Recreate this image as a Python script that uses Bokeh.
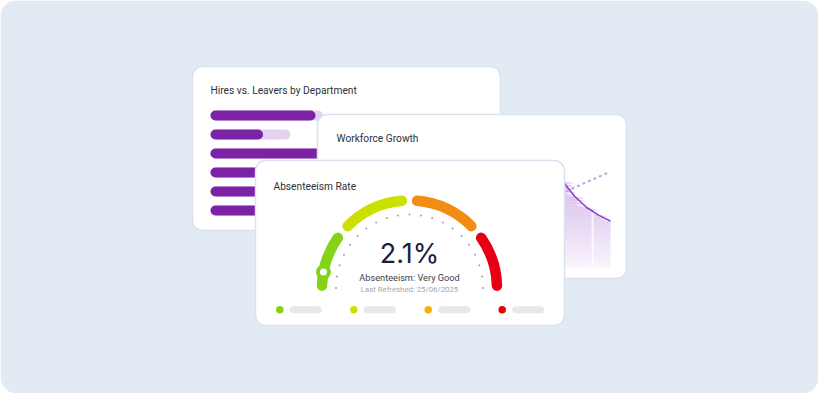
import numpy as np
from bokeh.plotting import figure
from bokeh.models import Range1d
from bokeh.embed import file_html
from bokeh.resources import INLINE
from bokeh.core.properties import value

# ---------------- data ----------------
# Card 1: Hires vs. Leavers by Department
departments = ["Sales", "Engineering", "Operations", "Marketing", "Finance", "HR"]
hires = [42, 21, 46, 38, 40, 36]
leavers = [3, 11, 6, 8, 5, 7]

# Card 2: Workforce Growth (headcount per period)
wf_period = list(range(24))
wf_headcount = [1240, 1255, 1262, 1280, 1290, 1302, 1315, 1330, 1338, 1352, 1365, 1380,
                1395, 1410, 1428, 1445, 1462, 1478, 1490, 1430, 1355, 1300, 1262, 1232]
wf_target_period = list(range(12, 24))
wf_target = [1185, 1212, 1238, 1265, 1292, 1319, 1346, 1373, 1400, 1427, 1453, 1480]
wf_gridline = [21.5]

# Card 3: Absenteeism gauge
gauge_value = 2.1
gauge_max = 36
gauge_bands = [0, 8, 18, 28, 36]
gauge_colors = ["#84D317", "#CCE000", "#F18D14", "#E60012"]
gauge_ticks = [i * 1.8 for i in range(21)]
gauge_label = "2.1%"
gauge_status = "Absenteeism: Very Good"
gauge_refresh = "Last Refreshed: 25/06/2025"
legend_colors = ["#86D313", "#CFE000", "#F2B10C", "#E8000B"]

titles = ["Hires vs. Leavers by Department", "Workforce Growth", "Absenteeism Rate"]

# ---------------- layout helpers (image pixel coordinates) ----------------
W, H = 818, 393
def Y(v):
    return H - v

p = figure(width=W, height=H, output_backend="svg", toolbar_location=None,
           x_range=Range1d(0, W), y_range=Range1d(0, H),
           x_axis_location=None, y_axis_location=None,
           background_fill_color="white", border_fill_color="white",
           min_border=0, min_border_left=0, min_border_right=0,
           min_border_top=0, min_border_bottom=0)
p.outline_line_color = None
p.grid.visible = False

FONT = value("Roboto")
BORDER = "#D9E3F0"
TITLE_COLOR = "#2B303B"

# background
p.quad(left=[0], right=[W], top=[H], bottom=[0], fill_color="#E2EAF3",
       line_color=None, border_radius=16)

def card(l, t, r, b):
    p.quad(left=[l], right=[r], top=[Y(t)], bottom=[Y(b)], fill_color="white",
           line_color=BORDER, line_width=1.5, border_radius=10)

# ---------------- card 1 ----------------
card(192, 66, 500, 230)
p.text(x=[210], y=[Y(90)], text=[titles[0]], text_font=FONT, text_font_size="10.2px",
       text_color=TITLE_COLOR, text_baseline="middle", text_align="left")

px_per_unit = 2.5
bx0 = 210
p.extra_x_ranges["hv"] = Range1d(start=(0 - bx0) / px_per_unit, end=(W - bx0) / px_per_unit)
row_y0, row_step = 115, 19.0
p.extra_y_ranges["rows"] = Range1d(start=(Y(row_y0) - 0) / row_step,
                                   end=(Y(row_y0) - H) / row_step)
rows = list(range(len(departments)))
totals = [h + l for h, l in zip(hires, leavers)]
p.hbar(y=rows, left=0, right=totals, height=10 / row_step, fill_color="#E4D2EF", line_color=None,
       border_radius=5, x_range_name="hv", y_range_name="rows")
p.hbar(y=rows, left=0, right=hires, height=10 / row_step, fill_color="#7B22A6", line_color=None,
       border_radius=5, x_range_name="hv", y_range_name="rows")

# ---------------- card 2 ----------------
card(317, 114, 626, 278)
p.text(x=[336], y=[Y(138)], text=[titles[1]], text_font=FONT, text_font_size="10.2px",
       text_color=TITLE_COLOR, text_baseline="middle", text_align="left")

wx0, wx1 = 336, 610
wstep = (wx1 - wx0) / 23
p.extra_x_ranges["wf_x"] = Range1d(start=(0 - wx0) / wstep, end=(W - wx0) / wstep)
# headcount 1000 at pixel y 267, 5 people per pixel
base_px = Y(267)
p.extra_y_ranges["wf_y"] = Range1d(start=1000 - 5 * base_px, end=1000 + 5 * (H - base_px))

hc = np.array(wf_headcount, dtype=float)
levels = np.arange(1000, 1520, 15)
for lo, hi in zip(levels[:-1], levels[1:]):
    top = np.clip(hc, lo, hi)
    a = 0.06 + 0.34 * min(1.0, (hi - 1000) / 430)
    p.varea(x=wf_period, y1=[lo] * len(wf_period), y2=top, fill_color="#9B59D0",
            fill_alpha=a, x_range_name="wf_x", y_range_name="wf_y")
gl_top = float(np.interp(wf_gridline[0], wf_period, wf_headcount))
p.segment(x0=wf_gridline, y0=[1000], x1=wf_gridline, y1=[gl_top - 3], line_color="white",
          line_alpha=0.7, line_width=2, x_range_name="wf_x", y_range_name="wf_y")
p.line(x=wf_period, y=wf_headcount, line_color="#8E3FC9", line_width=1.6,
       x_range_name="wf_x", y_range_name="wf_y")
p.line(x=wf_target_period, y=wf_target, line_color="#C3A3E2", line_width=2.2,
       line_dash="1 5", line_cap="round", x_range_name="wf_x", y_range_name="wf_y")

# ---------------- card 3 ----------------
card(255, 160, 564, 325)
p.text(x=[273], y=[Y(186)], text=[titles[2]], text_font=FONT, text_font_size="10.2px",
       text_color=TITLE_COLOR, text_baseline="middle", text_align="left")

cx, cy, R = 409, Y(287.5), 87.5
def ang(v):
    return np.pi * (1 - v / gauge_max)
inner = np.deg2rad(5.0)
outer = np.deg2rad(1.5)
for i, col in enumerate(gauge_colors):
    a0 = ang(gauge_bands[i]) - (outer if i == 0 else inner)
    a1 = ang(gauge_bands[i + 1]) + (outer if i == len(gauge_colors) - 1 else inner)
    p.arc(x=cx, y=cy, radius=R, start_angle=a0, end_angle=a1, direction="clock",
          line_color=col, line_width=10.5, line_cap="round")

tick_a = np.array([ang(t) for t in gauge_ticks])
p.scatter(x=cx + 73.5 * np.cos(tick_a), y=cy + 73.5 * np.sin(tick_a), size=2.0,
          fill_color="#9A9FA8", line_color=None)

ka = ang(gauge_value)
p.scatter(x=[cx + R * np.cos(ka)], y=[cy + R * np.sin(ka)], size=15, fill_color=gauge_colors[0],
          line_color=None)
p.scatter(x=[cx + R * np.cos(ka)], y=[cy + R * np.sin(ka)], size=7, fill_color="white",
          line_color=None)

p.text(x=[cx], y=[Y(253)], text=[gauge_label], text_font=value("Inter"), text_font_size="27px",
       text_color="#18213A", text_baseline="middle", text_align="center")
p.text(x=[cx], y=[Y(277.3)], text=[gauge_status], text_font=FONT, text_font_size="9.2px",
       text_color="#3A3F4A", text_baseline="middle", text_align="center")
p.text(x=[cx], y=[Y(288.7)], text=[gauge_refresh], text_font=FONT, text_font_size="7.8px",
       text_color="#A3A7AE", text_baseline="middle", text_align="center")

lx = [279.3, 353.3, 427.7, 501.7]
ly = Y(309.3)
p.segment(x0=[x + 13.5 for x in lx], y0=[ly] * 4, x1=[x + 38.5 for x in lx], y1=[ly] * 4,
          line_color="#E8E8EB", line_width=7, line_cap="round")
p.scatter(x=lx, y=[ly] * 4, size=7.5, fill_color=legend_colors, line_color=None)

open("out.html", "w").write(file_html(p, INLINE))
